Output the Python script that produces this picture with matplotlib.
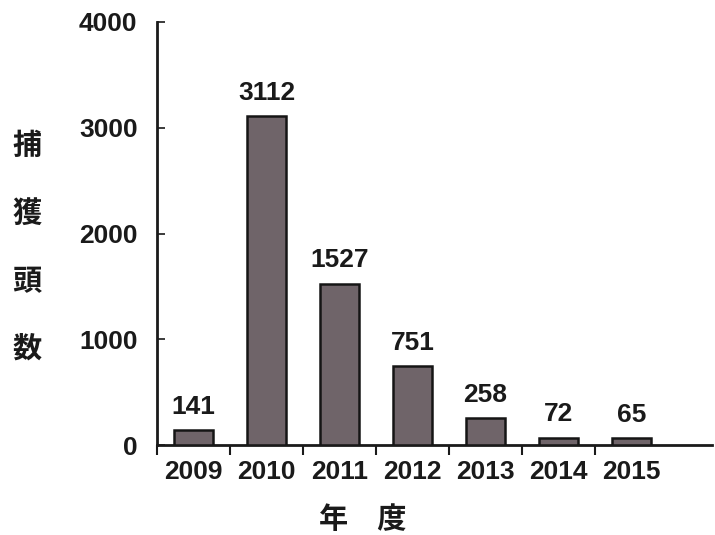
import matplotlib
matplotlib.use("Agg")
import matplotlib.pyplot as plt
import numpy as np

years = ["2009", "2010", "2011", "2012", "2013", "2014", "2015"]
counts = [141, 3112, 1527, 751, 258, 72, 65]
yticks = [0, 1000, 2000, 3000, 4000]
ylabel_chars = ["捕", "獲", "頭", "数"]
xlabel_text = "年　度"

fig = plt.figure(figsize=(7.15, 5.35), dpi=100)
ax = fig.add_axes([0.2196, 0.168, 0.776, 0.791])

x = np.arange(len(years))
ax.bar(x, counts, width=0.54, color="#6f6469", edgecolor="#151515", linewidth=1.8, zorder=3)

num_font = dict(family=["Liberation Sans", "DejaVu Sans"], weight="bold", size=19)
for xi, v in zip(x, counts):
    ax.annotate(str(v), (xi, v), xytext=(0, 8), textcoords="offset points",
                ha="center", va="bottom", color="#1a1a1a", **num_font)

ax.set_xlim(-0.5, 7.1)
ax.set_ylim(0, 4000)
ax.set_yticks(yticks)
ax.set_yticklabels([str(t) for t in yticks], **num_font)
ax.set_xticks(x)
ax.set_xticklabels(years, **num_font)
ax.set_xticks(np.arange(-0.5, len(years) - 0.5, 1), minor=True)

ax.tick_params(axis="y", direction="in", length=6, width=1.2, pad=14, colors="#1a1a1a")
ax.tick_params(axis="x", which="major", length=0, pad=11, colors="#1a1a1a")
ax.tick_params(axis="x", which="minor", direction="out", length=7, width=1.5, color="#1a1a1a")

for s in ["top", "right"]:
    ax.spines[s].set_visible(False)
ax.spines["left"].set_linewidth(2)
ax.spines["bottom"].set_linewidth(2)
ax.spines["left"].set_color("#1a1a1a")
ax.spines["bottom"].set_color("#1a1a1a")

cjk = dict(family=["Noto Sans CJK JP", "DejaVu Sans"], weight="bold", size=21, color="#1a1a1a")
for i, ch in enumerate(ylabel_chars):
    fig.text(0.038, 1 - (145 + 68 * i) / 535, ch, ha="center", va="center", **cjk)
fig.text(0.507, 1 - 519 / 535, xlabel_text, ha="center", va="center", **cjk)

fig.savefig("out.png", dpi=100)
